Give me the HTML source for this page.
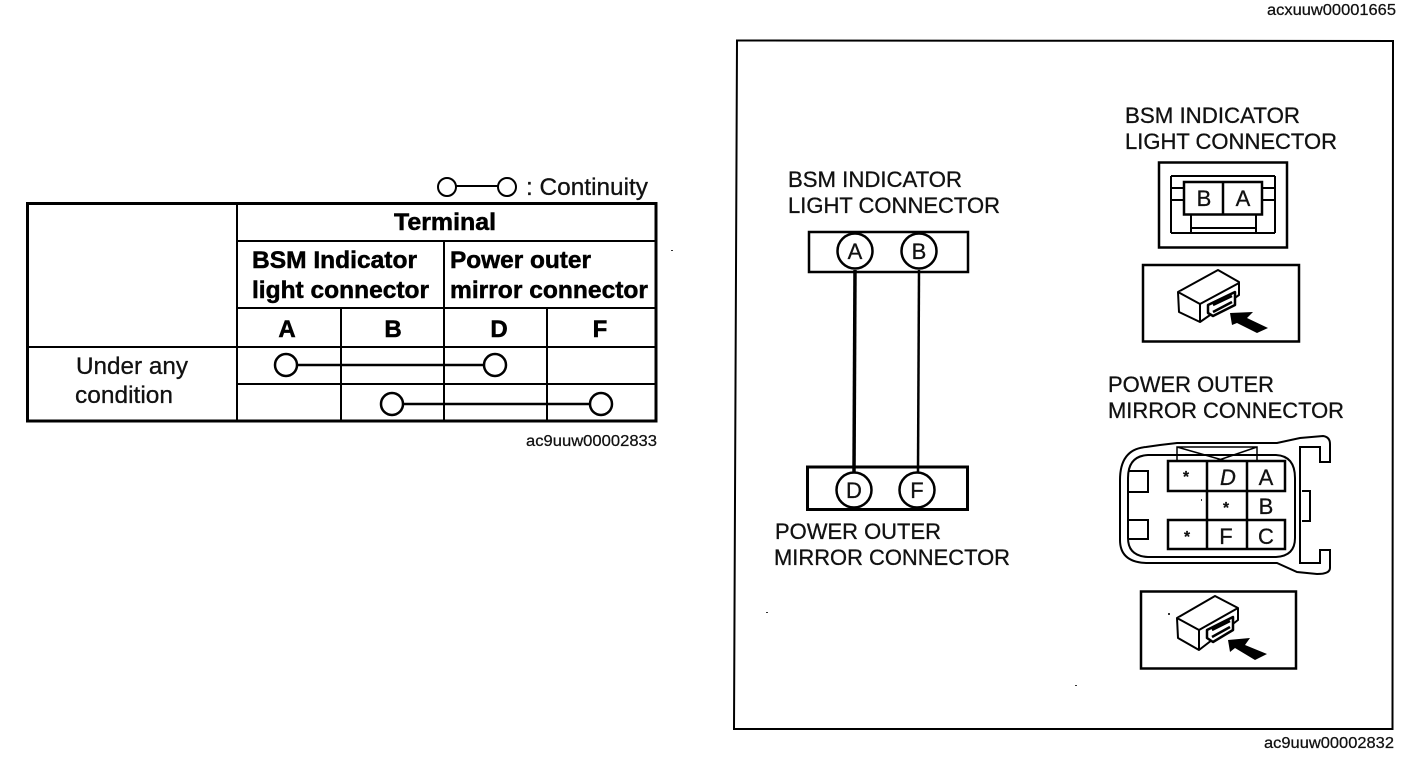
<!DOCTYPE html>
<html><head><meta charset="utf-8"><style>
html,body{margin:0;padding:0;background:#fff;width:1408px;height:758px;overflow:hidden}
svg{display:block}
text{font-family:"Liberation Sans",sans-serif;fill:#111;stroke:#111;stroke-width:.3}
.b{font-weight:bold;font-size:24px;fill:#000;stroke:#000;stroke-width:.5}
.l{font-size:22px}
.s{font-size:15.500px;stroke-width:.25}
.c{text-anchor:middle}
</style></head><body>
<svg width="1408" height="758" viewBox="0 0 1408 758" xmlns="http://www.w3.org/2000/svg">
<g fill="none" stroke="#000">
<!-- table -->
<rect x="27.500" y="203.500" width="628.500" height="217.500" stroke-width="3"/>
<g stroke-width="2">
<path d="M237 203V421M237 241H656M237 308H656M27 347H656M237 384H656M341 308V421M444 241V421M547 308V421"/>
</g>
<g stroke-width="2.500" fill="#fff">
<path d="M297 365H484M403 404H590" fill="none"/>
<circle cx="286" cy="365" r="11"/><circle cx="495" cy="365" r="11"/>
<circle cx="392" cy="404" r="11"/><circle cx="601" cy="404" r="11"/>
</g>
<g stroke-width="2">
<path d="M456 186H498"/>
<circle cx="447" cy="187" r="9"/><circle cx="507" cy="187" r="9"/>
</g>
<!-- frame -->
<path d="M737 40.500L1393 41L1392.500 729L734 729Z" stroke-width="2"/>
<!-- left connectors -->
<rect x="809" y="232" width="159" height="40" stroke-width="2.500"/>
<rect x="807.500" y="467" width="160" height="42.500" stroke-width="3"/>
<path d="M855 270L854 472" stroke-width="3.500"/>
<path d="M919 270L918 472" stroke-width="2.500"/>
<g stroke-width="2.500" fill="#fff">
<circle cx="855" cy="251" r="17.500"/><circle cx="919" cy="251" r="17.500"/>
<circle cx="854" cy="490" r="17.500"/><circle cx="917" cy="490" r="17.500"/>
</g>
<!-- BSM connector face -->
<rect x="1159" y="162.500" width="128" height="85" stroke-width="2.500"/>
<path d="M1171 176H1275M1171 176V233M1275 176V233M1171 233H1275M1171 188H1184M1171 200H1184M1262 188H1275M1262 200H1275M1191 215V233M1256 215V233M1192 228H1255" stroke-width="2"/>
<rect x="1184" y="182" width="78" height="32.500" stroke-width="2.500"/>
<path d="M1223 182V214" stroke-width="2.500"/>
<!-- boxes -->
<rect x="1143" y="265" width="156" height="76.500" stroke-width="2.500"/>
<rect x="1141" y="591.500" width="155" height="77" stroke-width="2.500"/>
<!-- mirror connector body -->
<path d="M1120 480Q1120 449 1146 447L1160 445L1177 443H1277L1300 438L1323 436Q1330 437 1330 444V462H1320V447H1300V563H1320V550H1330V568Q1330 574 1317 574L1297 572L1277 563H1146Q1120 562 1120 540Z" stroke-width="2"/>
<path d="M1128 478Q1128 456 1148 455H1276Q1295 456 1295 478V538Q1295 556 1276 557H1148Q1128 556 1128 538Z" stroke-width="2"/>
<path d="M1177 461V447H1257V461M1177 447L1226 461M1257 447L1216 461" stroke-width="1.500"/>
<path d="M1128 471H1148V492H1128M1128 520H1148V539H1128M1302 491H1310V521H1302" stroke-width="2"/>
<path d="M1168 461H1285V491H1168ZM1168 520H1285V549H1168ZM1207 461V549M1247 461V549M1207 491H1285M1207 520H1285" stroke-width="2.500"/>
</g>
<!-- small connector icons -->
<g fill="#fff" stroke="#000" stroke-width="2" stroke-linejoin="round">
<path d="M1178 292L1218 270L1239 282V295L1200 322L1179 312Z"/>
<path d="M1178 292L1200 304L1239 283M1200 304V322"/>
<path d="M1208 305L1235 292V305L1213 316L1208 313Z" stroke-width="2.500"/>
<path d="M1213 305L1232 296M1213 312L1232 302" stroke-width="2.500"/>
</g>
<path d="M1230 313L1253 312L1247 318L1268 328L1257 333L1237 323L1232 325Z" fill="#000"/>
<g fill="#fff" stroke="#000" stroke-width="2" stroke-linejoin="round">
<path d="M1177 618L1215 596L1238 608V620L1199 650L1178 638Z"/>
<path d="M1177 618L1199 630L1238 608M1199 630V650"/>
<path d="M1207 630L1233 617V630L1213 642L1207 638Z" stroke-width="2.500"/>
<path d="M1212 630L1230 621M1212 637L1230 627" stroke-width="2.500"/>
</g>
<path d="M1228 640L1250 638L1245 645L1267 654L1255 660L1235 648L1230 652Z" fill="#000"/>
<!-- text -->
<text x="1267" y="15" class="s" textLength="129" lengthAdjust="spacingAndGlyphs">acxuuw00001665</text>
<text x="526" y="446" class="s" textLength="131" lengthAdjust="spacingAndGlyphs">ac9uuw00002833</text>
<text x="1264" y="748" class="s" textLength="130" lengthAdjust="spacingAndGlyphs">ac9uuw00002832</text>
<text x="526" y="195" class="l" style="font-size:24px" textLength="122" lengthAdjust="spacingAndGlyphs">: Continuity</text>
<text x="394" y="230" class="b" textLength="102" lengthAdjust="spacingAndGlyphs">Terminal</text>
<text x="252" y="268" class="b" textLength="165" lengthAdjust="spacingAndGlyphs">BSM Indicator</text>
<text x="252" y="298" class="b" textLength="177" lengthAdjust="spacingAndGlyphs">light connector</text>
<text x="450" y="268" class="b" textLength="141" lengthAdjust="spacingAndGlyphs">Power outer</text>
<text x="450" y="298" class="b" textLength="198" lengthAdjust="spacingAndGlyphs">mirror connector</text>
<text x="287" y="337" class="b c">A</text>
<text x="393" y="337" class="b c">B</text>
<text x="499" y="337" class="b c">D</text>
<text x="600" y="337" class="b c">F</text>
<text x="76" y="374" class="l" style="font-size:24px" textLength="112" lengthAdjust="spacingAndGlyphs">Under any</text>
<text x="75" y="403" class="l" style="font-size:24px" textLength="98" lengthAdjust="spacingAndGlyphs">condition</text>
<text x="788" y="187" class="l" textLength="174" lengthAdjust="spacingAndGlyphs">BSM INDICATOR</text>
<text x="788" y="213" class="l" textLength="212" lengthAdjust="spacingAndGlyphs">LIGHT CONNECTOR</text>
<text x="775" y="539" class="l" textLength="166" lengthAdjust="spacingAndGlyphs">POWER OUTER</text>
<text x="774" y="565" class="l" textLength="236" lengthAdjust="spacingAndGlyphs">MIRROR CONNECTOR</text>
<text x="1125" y="123" class="l" textLength="175" lengthAdjust="spacingAndGlyphs">BSM INDICATOR</text>
<text x="1125" y="149" class="l" textLength="212" lengthAdjust="spacingAndGlyphs">LIGHT CONNECTOR</text>
<text x="1108" y="392" class="l" textLength="166" lengthAdjust="spacingAndGlyphs">POWER OUTER</text>
<text x="1108" y="418" class="l" textLength="236" lengthAdjust="spacingAndGlyphs">MIRROR CONNECTOR</text>
<text x="855" y="259" class="l c">A</text>
<text x="919" y="259" class="l c">B</text>
<text x="854" y="498" class="l c">D</text>
<text x="917" y="498" class="l c">F</text>
<text x="1204" y="206" class="l c">B</text>
<text x="1243" y="206" class="l c">A</text>
<text x="1228" y="485" class="l c" style="font-style:italic">D</text>
<text x="1266" y="485" class="l c">A</text>
<text x="1266" y="514" class="l c">B</text>
<text x="1226" y="544" class="l c">F</text>
<text x="1266" y="544" class="l c">C</text>
<text x="1186" y="482" class="s c" font-weight="bold">*</text>
<text x="1226" y="513" class="s c" font-weight="bold">*</text>
<text x="1187" y="542" class="s c" font-weight="bold">*</text>
<g fill="#333"><rect x="1168" y="613" width="2" height="2"/><rect x="1201" y="499" width="1" height="2"/><rect x="671" y="250" width="2" height="1"/><rect x="766" y="612" width="2" height="1"/><rect x="1075" y="685" width="2" height="1"/></g>
</svg>
</body></html>
